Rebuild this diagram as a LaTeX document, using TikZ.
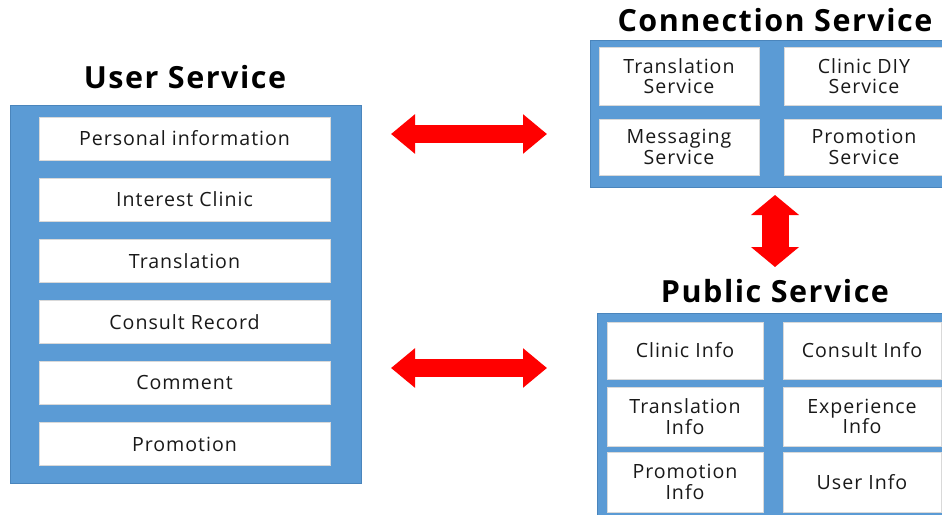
\documentclass[tikz,border=0pt]{standalone}
\usepackage{fontspec}
\setmainfont{Open Sans}[LetterSpace=5]
\usetikzlibrary{arrows.meta}

\definecolor{panelblue}{HTML}{5B9BD5}
\definecolor{paneledge}{HTML}{4A85BC}
\definecolor{arrowred}{HTML}{FF0000}

\tikzset{
  panel/.style={fill=panelblue, draw=paneledge, line width=0.8pt},
  item/.style={fill=white, draw=black!15, line width=0.6pt, align=center,
    inner sep=0pt, font=\fontsize{19.6}{20.5}\selectfont, text=black!90},
  title/.style={font=\fontsize{30.5}{32}\selectfont\bfseries, text=black},
  flowarrow/.style={draw=arrowred, line width=18pt,
    {Triangle[length=24pt, width=38pt]}-{Triangle[length=24pt, width=38pt]}},
  linkarrow/.style={draw=arrowred, line width=27pt,
    {Triangle[length=20pt, width=47pt]}-{Triangle[length=20pt, width=47pt]}},
}

\begin{document}
\begin{tikzpicture}[x=1pt, y=-1pt]
  \clip (0,0) rectangle (942,514);
  \fill[white] (0,0) rectangle (942,514);

  % user service column
  \node[title] (usertitle) at (185,77) {User Service};
  \draw[panel] (10,105) rectangle (361,483);
  \foreach \t [count=\i] in {Personal information, Interest Clinic, Translation,
      Consult Record, Comment, Promotion}
    \node[item, minimum width=291pt, minimum height=43pt]
      (u\i) at (184.5,{138.5+61.1*(\i-1)}) {\t};

  % connection service
  \node[title] (conntitle) at (775,20) {Connection Service};
  \draw[panel] (590,40) rectangle (946,187);
  \node[item, minimum width=160pt, minimum height=58pt] (c1) at (679,76) {Translation\\Service};
  \node[item, minimum width=160pt, minimum height=58pt] (c2) at (864,76) {Clinic DIY\\Service};
  \node[item, minimum width=160pt, minimum height=56pt] (c3) at (679,147) {Messaging\\Service};
  \node[item, minimum width=160pt, minimum height=56pt] (c4) at (864,147) {Promotion\\Service};

  % public service
  \node[title] (pubtitle) at (775,291) {Public Service};
  \draw[panel] (597,313) rectangle (946,518);
  \node[item, minimum width=156pt, minimum height=57pt] (p1) at (685,350.5) {Clinic Info};
  \node[item, minimum width=158pt, minimum height=57pt] (p2) at (862,350.5) {Consult Info};
  \node[item, minimum width=156pt, minimum height=59pt] (p3) at (685,416.5) {Translation\\Info};
  \node[item, minimum width=158pt, minimum height=59pt] (p4) at (862,416.5) {Experience\\Info};
  \node[item, minimum width=156pt, minimum height=60pt] (p5) at (685,482) {Promotion\\Info};
  \node[item, minimum width=158pt, minimum height=60pt] (p6) at (862,482) {User Info};

  % arrow ends
  \coordinate (ua) at (391,134);
  \coordinate (ca) at (547,134);
  \coordinate (ub) at (391,368);
  \coordinate (pb) at (547,368);
  \coordinate (ctop) at (775,195);
  \coordinate (pbot) at (775,267);

  \draw[flowarrow] (ua) -- (ca);
  \draw[flowarrow] (ub) -- (pb);
  \draw[linkarrow] (ctop) -- (pbot);
\end{tikzpicture}
\end{document}
